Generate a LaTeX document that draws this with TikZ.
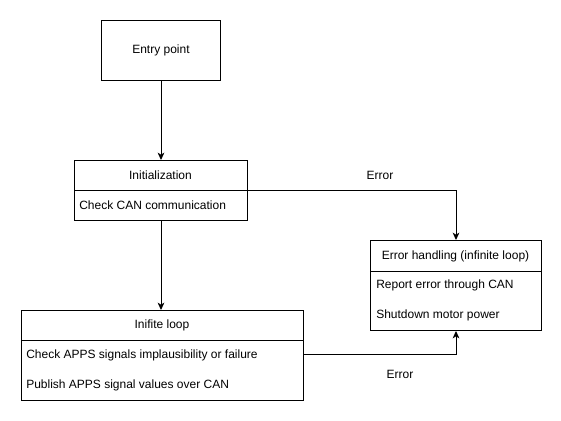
\documentclass[tikz,border=0pt]{standalone}
\usepackage{fontspec}
\setmainfont{Liberation Sans}
\usetikzlibrary{arrows.meta}
\begin{document}
\begin{tikzpicture}[x=0.75pt,y=-0.75pt,
  box/.style={draw, line width=0.75pt, rectangle, anchor=north west, inner sep=0pt},
  lbl/.style={font=\fontsize{9}{11}\selectfont, inner sep=0pt},
  rowtxt/.style={lbl, anchor=west},
  conn/.style={line width=0.75pt, -{Stealth[length=5.5pt,width=5pt,inset=1.5pt]}},
  divline/.style={line width=0.75pt}]
\useasboundingbox[fill=white] (0,0) rectangle (561,421);
% boxes
\node[box, minimum width=119*0.75pt, minimum height=60*0.75pt] (entry) at (101,20) {};
\node[lbl] (entrytxt) at (entry.center) {Entry point};

\node[box, minimum width=173*0.75pt, minimum height=60*0.75pt] (init) at (74,160) {};
\coordinate (initdivL) at (74,190);
\coordinate (initdivR) at (247,190);
\draw[divline] (initdivL) -- (initdivR);
\node[lbl] (inittitle) at (160.5,175) {Initialization};
\node[rowtxt] (initrow1) at (79,205.5) {Check CAN communication};

\node[box, minimum width=171*0.75pt, minimum height=90*0.75pt] (err) at (370,240) {};
\coordinate (errdivL) at (370,271);
\coordinate (errdivR) at (541,271);
\draw[divline] (errdivL) -- (errdivR);
\node[lbl] (errtitle) at (455.5,256) {Error handling (infinite loop)};
\node[rowtxt] (errrow1) at (376,285.5) {Report error through CAN};
\node[rowtxt] (errrow2) at (376,315.5) {Shutdown motor power};

\node[box, minimum width=282*0.75pt, minimum height=90*0.75pt] (loop) at (21,310) {};
\coordinate (loopdivL) at (21,340);
\coordinate (loopdivR) at (303,340);
\draw[divline] (loopdivL) -- (loopdivR);
\node[lbl] (looptitle) at (162,325) {Inifite loop};
\node[rowtxt] (looprow1) at (26,355) {Check APPS signals implausibility or failure};
\node[rowtxt] (looprow2) at (26,385) {Publish APPS signal values over CAN};

% connectors
\draw[conn] (entry.south) -- (init.north);
\draw[conn] (init.south) -- (init.south |- loop.north);
\coordinate (e1) at (456,190);
\draw[conn] (initdivR) -- (e1) -- (e1 |- err.north);
\coordinate (e2) at (456,354);
\draw[conn] (loop.east |- e2) -- (e2) -- (e2 |- err.south);
\node[lbl] (errlabel1) at (380,175) {Error};
\node[lbl] (errlabel2) at (400,374.5) {Error};
\end{tikzpicture}
\end{document}
